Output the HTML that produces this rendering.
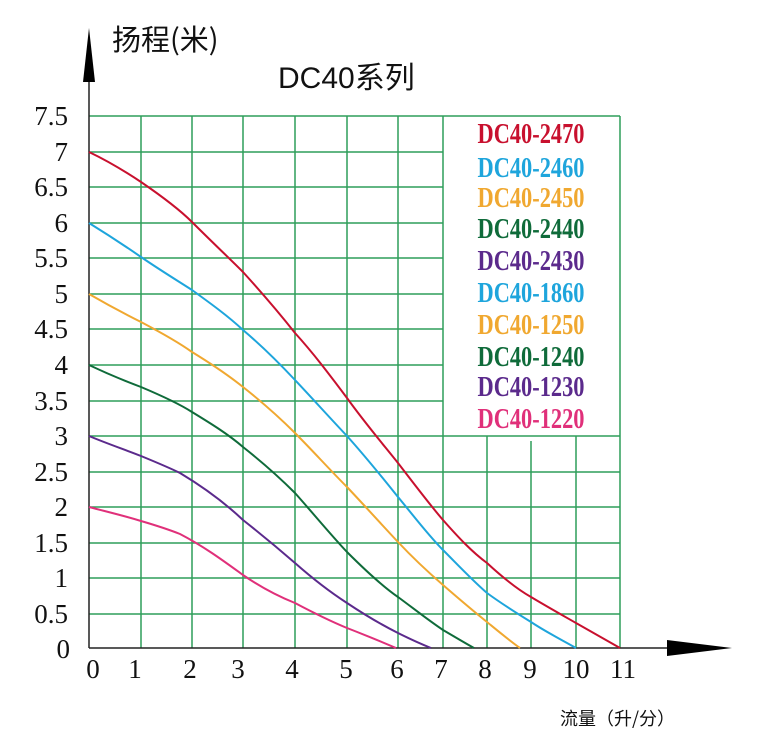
<!DOCTYPE html>
<html><head><meta charset="utf-8"><style>
body{margin:0;background:#fff}
svg{display:block}
.t{font-family:"Liberation Serif","Noto Serif CJK SC",serif;font-size:27px;fill:#111}
.lg{font-family:"Liberation Serif",serif;font-weight:bold;font-size:28px}
</style></head><body>
<svg width="760" height="741" viewBox="0 0 760 741" xmlns="http://www.w3.org/2000/svg">
<g stroke="#2e9e5a" stroke-width="1.5" fill="none">
<line x1="89" y1="116" x2="620" y2="116"/>
<line x1="89" y1="152" x2="443" y2="152"/><line x1="89" y1="187" x2="443" y2="187"/>
<line x1="89" y1="223" x2="443" y2="223"/><line x1="89" y1="258" x2="443" y2="258"/>
<line x1="89" y1="294" x2="443" y2="294"/><line x1="89" y1="329" x2="443" y2="329"/>
<line x1="89" y1="365" x2="443" y2="365"/><line x1="89" y1="401" x2="443" y2="401"/>
<line x1="89" y1="436" x2="620" y2="436"/><line x1="89" y1="472" x2="620" y2="472"/>
<line x1="89" y1="507" x2="620" y2="507"/><line x1="89" y1="543" x2="620" y2="543"/>
<line x1="89" y1="578" x2="620" y2="578"/><line x1="89" y1="614" x2="620" y2="614"/>
<line x1="141" y1="116" x2="141" y2="648"/><line x1="192" y1="116" x2="192" y2="648"/>
<line x1="243" y1="116" x2="243" y2="648"/><line x1="295" y1="116" x2="295" y2="648"/>
<line x1="347" y1="116" x2="347" y2="648"/><line x1="398" y1="116" x2="398" y2="648"/>
<line x1="443" y1="116" x2="443" y2="648"/><line x1="487" y1="436" x2="487" y2="648"/>
<line x1="531" y1="441" x2="531" y2="648"/><line x1="576" y1="436" x2="576" y2="648"/>
<line x1="620" y1="116" x2="620" y2="648"/>
</g>
<g stroke="#222" stroke-width="1.5"><line x1="89" y1="60" x2="89" y2="648"/><line x1="89" y1="648" x2="690" y2="648"/></g>
<polygon points="89,28 83,82 95,82" fill="#000"/>
<polygon points="732,648 667,640 667,656" fill="#000"/>
<g fill="none" stroke-width="2" stroke-linejoin="round">
<path stroke="#c8102e" d="M89,152 C110,162 126,172 141,182 C160,195 178,208 192,222 C212,242 228,257 243,272 C262,293 280,314 295,333 C315,355 332,378 347,398 C365,423 382,443 398,463 C415,485 430,505 443,520 C458,537 472,552 487,563 C500,575 515,588 531,597 C546,606 562,615 576,623 C592,632 606,640 620,648"/>
<path stroke="#1ea5dc" d="M89,223 C110,236 128,248 141,257 C160,270 178,281 192,290 C210,303 228,316 243,330 C262,346 280,364 295,380 C312,398 330,418 347,436 C365,456 382,477 398,497 C413,515 428,535 443,550 C458,565 472,580 487,593 C502,604 518,614 531,622 C546,632 562,640 576,648"/>
<path stroke="#f0a830" d="M89,294 C108,305 125,314 141,322 C160,332 178,342 192,352 C210,363 228,375 243,387 C262,402 280,418 295,433 C312,450 330,470 347,487 C365,506 382,525 398,542 C413,558 428,572 443,585 C458,598 472,610 487,622 C498,631 510,641 520,648"/>
<path stroke="#0f6b3a" d="M89,365 C110,375 125,381 141,387 C160,395 178,403 192,412 C210,423 228,434 243,447 C262,462 280,478 295,493 C312,512 330,534 347,552 C365,570 382,586 398,597 C413,608 428,620 443,630 C455,637 465,643 474,648"/>
<path stroke="#5b2a8c" d="M89,436 C108,444 126,450 141,456 C158,463 170,468 180,473 C205,488 225,503 243,520 C262,535 280,550 295,563 C312,578 330,592 347,603 C365,615 382,625 398,633 C410,639 421,644 431,648"/>
<path stroke="#e0307a" d="M89,507 C108,512 125,516 141,521 C158,526 170,530 180,534 C205,547 225,562 243,575 C262,588 280,597 295,603 C312,612 330,621 347,628 C365,635 382,642 396,648"/>
</g>
<g class="t" text-anchor="end">
<text x="68" y="125">7.5</text><text x="68" y="161">7</text><text x="68" y="196">6.5</text>
<text x="68" y="232">6</text><text x="68" y="267">5.5</text><text x="68" y="303">5</text>
<text x="68" y="338">4.5</text><text x="68" y="374">4</text><text x="68" y="410">3.5</text>
<text x="68" y="445">3</text><text x="68" y="481">2.5</text><text x="68" y="516">2</text>
<text x="68" y="552">1.5</text><text x="68" y="587">1</text><text x="68" y="623">0.5</text>
<text x="70" y="658">0</text>
</g>
<g class="t" text-anchor="middle">
<text x="93" y="678">0</text><text x="135" y="678">1</text><text x="190" y="678">2</text>
<text x="238" y="678">3</text><text x="292" y="678">4</text><text x="346" y="678">5</text>
<text x="397" y="678">6</text><text x="441" y="678">7</text><text x="485" y="678">8</text>
<text x="530" y="678">9</text><text x="576" y="678">10</text><text x="623" y="678">11</text>
</g>
<text x="112" y="50" style="font-family:'Noto Sans CJK SC',sans-serif;font-size:29px" fill="#111">扬程(米)</text>
<text x="278" y="88" style="font-family:'Liberation Sans','Noto Sans CJK SC',sans-serif;font-size:30px" fill="#111">DC40系列</text>
<text x="560" y="725" style="font-family:'Noto Sans CJK SC',sans-serif;font-size:18px" fill="#111">流量（升/分）</text>
<g class="lg" text-anchor="middle" transform="translate(531,0) scale(0.8,1)">
<text x="0" y="143" fill="#c8102e">DC40-2470</text>
<text x="0" y="177" fill="#1ea5dc">DC40-2460</text>
<text x="0" y="207" fill="#f0a830">DC40-2450</text>
<text x="0" y="238" fill="#0f6b3a">DC40-2440</text>
<text x="0" y="270" fill="#5b2a8c">DC40-2430</text>
<text x="0" y="302" fill="#1ea5dc">DC40-1860</text>
<text x="0" y="334" fill="#f0a830">DC40-1250</text>
<text x="0" y="366" fill="#0f6b3a">DC40-1240</text>
<text x="0" y="396" fill="#5b2a8c">DC40-1230</text>
<text x="0" y="428" fill="#e0307a">DC40-1220</text>
</g>
</svg>
</body></html>
